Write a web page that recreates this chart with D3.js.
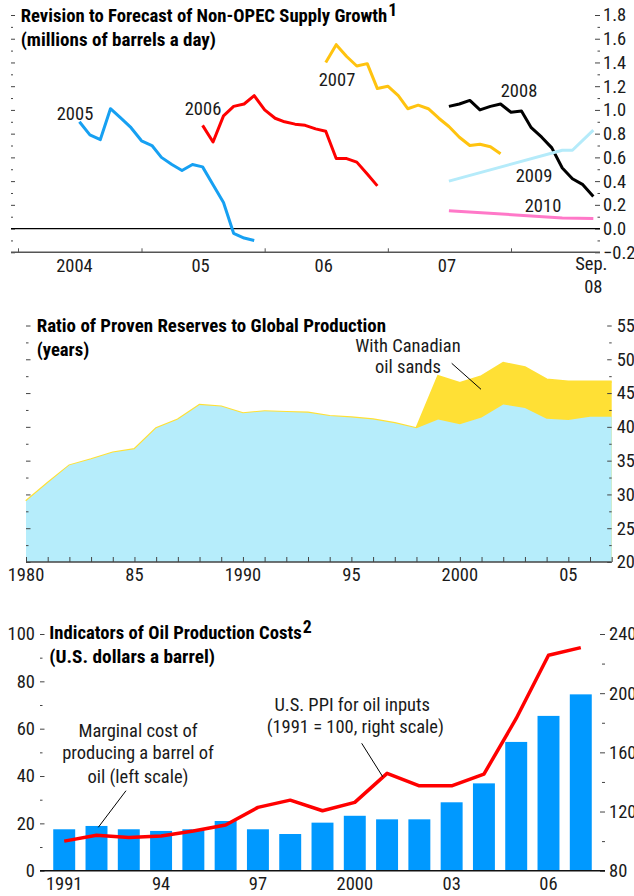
<!DOCTYPE html>
<html>
<head>
<meta charset="utf-8">
<script src="https://cdn.jsdelivr.net/npm/d3@7"></script>
<style>
  body { margin: 0; background: #fff; }
  svg { display: block; }
  text { font-family: "Roboto Condensed", "DejaVu Sans Condensed", sans-serif; fill: #1a1a1a; }
  .title { font-weight: bold; font-size: 17.8px; fill: #000; }
  .lbl { font-size: 18.5px; }
</style>
</head>
<body>
<svg id="chart" width="634" height="896"></svg>
<script>
// ==============================
// DATA
// ==============================
// Panel 1: revisions to forecast of non-OPEC supply growth (monthly)
const rev2005Start = "2004-07";
const rev2005 = [0.90, 0.79, 0.75, 1.01, 0.93, 0.85, 0.74, 0.70, 0.60, 0.54, 0.49, 0.54, 0.52, 0.37, 0.22, -0.04, -0.08, -0.10];
const rev2006Start = "2005-07";
const rev2006 = [0.87, 0.73, 0.95, 1.03, 1.05, 1.12, 1.00, 0.93, 0.90, 0.88, 0.87, 0.84, 0.82, 0.59, 0.59, 0.56, 0.46, 0.36];
const rev2007Start = "2006-07";
const rev2007 = [1.40, 1.55, 1.45, 1.37, 1.39, 1.18, 1.20, 1.12, 1.01, 1.04, 1.01, 0.93, 0.86, 0.77, 0.70, 0.71, 0.69, 0.63];
const rev2008Start = "2007-07";
const rev2008 = [1.03, 1.05, 1.08, 1.00, 1.03, 1.05, 0.98, 0.99, 0.85, 0.77, 0.68, 0.51, 0.42, 0.37, 0.27];
const rev2009 = [["2007-07", 0.40], ["2008-06", 0.66], ["2008-07", 0.66], ["2008-09", 0.83]];
const rev2010 = [["2007-07", 0.15], ["2008-06", 0.09], ["2008-09", 0.085]];
const revYearTicks = ["2004-01", "2005-01", "2006-01", "2007-01", "2008-01"];
const revYearLabels = [["2004-07", "2004"], ["2005-07", "05"], ["2006-07", "06"], ["2007-07", "07"]];
const revYTicks = [-0.2, 0, 0.2, 0.4, 0.6, 0.8, 1.0, 1.2, 1.4, 1.6, 1.8];

// Panel 2: ratio of proven reserves to global production (years)
const reserveYears = [1980, 1981, 1982, 1983, 1984, 1985, 1986, 1987, 1988, 1989, 1990, 1991, 1992, 1993,
                      1994, 1995, 1996, 1997, 1998, 1999, 2000, 2001, 2002, 2003, 2004, 2005, 2006, 2007];
const reservesBase = [29.0, 31.7, 34.3, 35.2, 36.2, 36.7, 39.8, 41.1, 43.25, 43.0, 42.0, 42.3, 42.2, 42.1,
                      41.6, 41.4, 41.1, 40.55, 39.8, 41.1, 40.4, 41.4, 43.3, 42.8, 41.2, 41.0, 41.5, 41.5];
const sandsYears = [1998, 1999, 2000, 2001, 2002, 2003, 2004, 2005, 2006, 2007];
const reservesWithSands = [39.8, 47.5, 46.5, 47.5, 49.45, 48.8, 47.0, 46.7, 46.7, 46.7];
const reserveXLabels = [[1980, "1980"], [1985, "85"], [1990, "1990"], [1995, "95"], [2000, "2000"], [2005, "05"]];
const reserveYTicks = [20, 25, 30, 35, 40, 45, 50, 55];

// Panel 3: indicators of oil production costs
const costYears = [1991, 1992, 1993, 1994, 1995, 1996, 1997, 1998, 1999, 2000, 2001, 2002, 2003, 2004, 2005, 2006, 2007];
const marginalCost = [17.5, 18.9, 17.5, 16.8, 17.5, 21.0, 17.5, 15.5, 20.3, 23.2, 21.7, 21.7, 28.9, 36.9, 54.4, 65.4, 74.5];
const ppiOilInputs = [100, 103.9, 102.5, 103.4, 106.8, 110.9, 122.8, 127.7, 120.5, 126.2, 145.8, 137.4, 137.4, 145.3, 182.9, 225.6, 230.8];
const costXLabels = [[1991, "1991"], [1994, "94"], [1997, "97"], [2000, "2000"], [2003, "03"], [2006, "06"]];
const costLeftTicks = [0, 20, 40, 60, 80, 100];
const costRightTicks = [80, 120, 160, 200, 240];

// ==============================
// SETUP
// ==============================
const svg = d3.select("#chart");
const parseMonth = d3.timeParse("%Y-%m");
const AXIS_COLOR = "#444";

function monthly(start, values) {
    const t0 = parseMonth(start);
    return values.map((v, i) => ({ date: d3.timeMonth.offset(t0, i), value: v }));
}
function pairs(list) {
    return list.map(([m, v]) => ({ date: parseMonth(m), value: v }));
}

function styleTicks(g, color) {
    g.select(".domain").remove();
    g.selectAll(".tick line").attr("stroke", color || AXIS_COLOR);
    g.selectAll("text").attr("class", "lbl").attr("fill", "#1a1a1a")
        .attr("font-family", null).attr("font-size", null);
}

// two-line bold panel title; widths follow the original typesetting
function title(x, y, line1, w1, sup, line2, w2) {
    svg.append("text").attr("class", "title").attr("x", x).attr("y", y)
        .attr("textLength", w1).attr("lengthAdjust", "spacingAndGlyphs").text(line1);
    if (sup) {
        svg.append("text").attr("class", "title").attr("font-size", "12px")
            .attr("x", x + w1 + 1).attr("y", y - 6).text(sup);
    }
    svg.append("text").attr("class", "title").attr("x", x).attr("y", y + 24)
        .attr("textLength", w2).attr("lengthAdjust", "spacingAndGlyphs").text(line2);
}

// ==============================
// PANEL 1: SUPPLY GROWTH REVISIONS
// ==============================
function drawRevisions() {
    const x = d3.scaleTime()
        .domain([parseMonth("2004-01"), parseMonth("2008-01")])
        .range([18, 511]);
    const y = d3.scaleLinear().domain([-0.2, 1.8]).range([252.3, 15]);
    const left = 11, right = 600;

    // left ticks (no labels)
    svg.append("g").attr("transform", `translate(${left},0)`)
        .call(d3.axisRight(y).tickValues(revYTicks).tickSize(4).tickFormat(""))
        .call(styleTicks);
    svg.append("g").attr("transform", `translate(${left},0)`)
        .call(d3.axisRight(y).tickValues(revYTicks.slice(1).map(v => v - 0.1)).tickSize(2).tickFormat(""))
        .call(styleTicks);

    // right ticks with labels
    svg.append("g").attr("transform", `translate(${right},0)`)
        .call(d3.axisRight(y).tickValues(revYTicks).tickSize(-5).tickPadding(3).tickFormat(d3.format(".1f")))
        .call(styleTicks);
    svg.append("g").attr("transform", `translate(${right},0)`)
        .call(d3.axisRight(y).tickValues(revYTicks.slice(1).map(v => v - 0.1)).tickSize(-2.5).tickFormat(""))
        .call(styleTicks);

    // zero line
    svg.append("line")
        .attr("x1", left).attr("x2", right)
        .attr("y1", y(0)).attr("y2", y(0))
        .attr("stroke", "#000").attr("stroke-width", 1.2);

    // bottom axis
    svg.append("line")
        .attr("x1", left).attr("x2", right)
        .attr("y1", y(-0.2)).attr("y2", y(-0.2))
        .attr("stroke", "#555").attr("stroke-width", 1.6);
    svg.append("g").attr("transform", `translate(0,${y(-0.2)})`)
        .call(d3.axisBottom(x).tickValues(revYearTicks.map(parseMonth)).tickSize(-4).tickFormat(""))
        .call(g => styleTicks(g, "#555"));

    revYearLabels.forEach(([m, label]) => {
        svg.append("text").attr("class", "lbl").attr("text-anchor", "middle")
            .attr("x", x(parseMonth(m)) - (label === "2004" ? 5 : 2)).attr("y", 271.7).text(label);
    });
    const sep = svg.append("text").attr("class", "lbl").attr("text-anchor", "middle")
        .attr("x", x(parseMonth("2008-09")) - 2).attr("y", 270);
    sep.append("tspan").text("Sep.");
    sep.append("tspan").attr("x", x(parseMonth("2008-09"))).attr("dy", 23).text("08");

    const line = d3.line().x(d => x(d.date)).y(d => y(d.value));
    const series = [
        { data: monthly(rev2005Start, rev2005), color: "#16a0f2", label: "2005", lx: 75, ly: 120 },
        { data: monthly(rev2006Start, rev2006), color: "#ff0000", label: "2006", lx: 203, ly: 115 },
        { data: monthly(rev2007Start, rev2007), color: "#ffc30f", label: "2007", lx: 337, ly: 86 },
        { data: monthly(rev2008Start, rev2008), color: "#000000", label: "2008", lx: 519, ly: 97.3 },
        { data: pairs(rev2009), color: "#b5ebfa", label: "2009", lx: 534, ly: 181.7 },
        { data: pairs(rev2010), color: "#ff78c8", label: "2010", lx: 543, ly: 211.7 }
    ];
    series.forEach(s => {
        svg.append("path").datum(s.data)
            .attr("d", line)
            .attr("fill", "none")
            .attr("stroke", s.color)
            .attr("stroke-width", 3)
            .attr("stroke-linejoin", "round");
        svg.append("text").attr("class", "lbl").attr("text-anchor", "middle")
            .attr("x", s.lx).attr("y", s.ly).text(s.label);
    });

    title(20.7, 21.7, "Revision to Forecast of Non-OPEC Supply Growth", 366.6, "1",
          "(millions of barrels a day)", 195.3);
}

// ==============================
// PANEL 2: RESERVES / PRODUCTION
// ==============================
function drawReserves() {
    const x = d3.scaleLinear().domain([1980, 2007]).range([26, 611.7]);
    const y = d3.scaleLinear().domain([20, 55]).range([562, 325.5]);

    const withSands = reserveYears.map((yr, i) => {
        const j = sandsYears.indexOf(yr);
        return { year: yr, value: j >= 0 ? reservesWithSands[j] : reservesBase[i] };
    });
    const base = reserveYears.map((yr, i) => ({ year: yr, value: reservesBase[i] }));

    const area = d3.area().x(d => x(d.year)).y0(y(20)).y1(d => y(d.value));
    const topLine = d3.line().x(d => x(d.year)).y(d => y(d.value));

    svg.append("path").datum(withSands).attr("d", area).attr("fill", "#ffe035");
    svg.append("path").datum(withSands).attr("d", topLine)
        .attr("fill", "none").attr("stroke", "#ffe035").attr("stroke-width", 2.2);
    svg.append("path").datum(base).attr("d", area).attr("fill", "#b6edfb");

    // ticks
    const minor = reserveYTicks.slice(1).map(v => v - 2.5);
    svg.append("g").attr("transform", "translate(26,0)")
        .call(d3.axisRight(y).tickValues(reserveYTicks).tickSize(4.5).tickFormat(""))
        .call(styleTicks);
    svg.append("g").attr("transform", "translate(26,0)")
        .call(d3.axisRight(y).tickValues(minor).tickSize(2.5).tickFormat(""))
        .call(styleTicks);
    svg.append("g").attr("transform", "translate(611.7,0)")
        .call(d3.axisRight(y).tickValues(reserveYTicks).tickSize(-4.5).tickPadding(5))
        .call(styleTicks);
    svg.append("g").attr("transform", "translate(611.7,0)")
        .call(d3.axisRight(y).tickValues(minor).tickSize(-2.5).tickFormat(""))
        .call(styleTicks);

    svg.append("line")
        .attr("x1", 26).attr("x2", 611.7).attr("y1", y(20)).attr("y2", y(20))
        .attr("stroke", AXIS_COLOR).attr("stroke-width", 1.6);
    svg.append("g").attr("transform", `translate(0,${y(20)})`)
        .call(d3.axisBottom(x).tickValues(reserveYears).tickSize(-5).tickFormat(""))
        .call(styleTicks);

    reserveXLabels.forEach(([yr, label]) => {
        svg.append("text").attr("class", "lbl").attr("text-anchor", "middle")
            .attr("x", x(yr)).attr("y", 581).text(label);
    });

    // annotation
    svg.append("text").attr("class", "lbl").attr("text-anchor", "middle")
        .attr("x", 408).attr("y", 351.7).text("With Canadian");
    svg.append("text").attr("class", "lbl").attr("text-anchor", "middle")
        .attr("x", 408).attr("y", 373.3).text("oil sands");
    svg.append("line")
        .attr("x1", 451.7).attr("y1", 363.3).attr("x2", 481).attr("y2", 389.3)
        .attr("stroke", "#000").attr("stroke-width", 1);

    title(36.7, 331.7, "Ratio of Proven Reserves to Global Production", 349.3, null, "(years)", 52.6);
}

// ==============================
// PANEL 3: PRODUCTION COSTS
// ==============================
function drawCosts() {
    const x = d3.scaleBand().domain(costYears).range([40, 605]).paddingInner(0.32).paddingOuter(0.41);
    const yL = d3.scaleLinear().domain([0, 100]).range([870.7, 634]);
    const yR = d3.scaleLinear().domain([80, 240]).range([870.7, 634]);

    svg.selectAll(".bar")
        .data(costYears)
        .enter().append("rect")
        .attr("class", "bar")
        .attr("fill", "#0099ff")
        .attr("x", d => x(d))
        .attr("width", x.bandwidth())
        .attr("y", (d, i) => yL(marginalCost[i]))
        .attr("height", (d, i) => yL(0) - yL(marginalCost[i]));

    const ppi = costYears.map((yr, i) => ({ year: yr, value: ppiOilInputs[i] }));
    svg.append("path").datum(ppi)
        .attr("d", d3.line().x(d => x(d.year) + x.bandwidth() / 2).y(d => yR(d.value)))
        .attr("fill", "none").attr("stroke", "#ff0000").attr("stroke-width", 3.5)
        .attr("stroke-linejoin", "round");

    // left axis
    svg.append("g").attr("transform", "translate(40,0)")
        .call(d3.axisLeft(yL).tickValues(costLeftTicks).tickSize(-4.5).tickPadding(5))
        .call(styleTicks);
    svg.append("g").attr("transform", "translate(40,0)")
        .call(d3.axisLeft(yL).tickValues([10, 30, 50, 70, 90]).tickSize(-2.5).tickFormat(""))
        .call(styleTicks);
    // right axis
    svg.append("g").attr("transform", "translate(605,0)")
        .call(d3.axisRight(yR).tickValues(costRightTicks).tickSize(-5).tickPadding(4))
        .call(styleTicks);
    svg.append("g").attr("transform", "translate(605,0)")
        .call(d3.axisRight(yR).tickValues([100, 140, 180, 220]).tickSize(-3).tickFormat(""))
        .call(styleTicks);

    svg.append("line")
        .attr("x1", 40).attr("x2", 605).attr("y1", yL(0)).attr("y2", yL(0))
        .attr("stroke", "#111").attr("stroke-width", 1.6);

    costXLabels.forEach(([yr, label]) => {
        svg.append("text").attr("class", "lbl").attr("text-anchor", "middle")
            .attr("x", x(yr) + x.bandwidth() / 2).attr("y", 890).text(label);
    });

    // annotations
    [["Marginal cost of", 736.7], ["producing a barrel of", 759.3], ["oil (left scale)", 782.7]].forEach(([t, yy]) => {
        svg.append("text").attr("class", "lbl").attr("text-anchor", "middle")
            .attr("x", 138).attr("y", yy).text(t);
    });
    svg.append("line")
        .attr("x1", 126).attr("y1", 790.7).attr("x2", 98.3).attr("y2", 827.3)
        .attr("stroke", "#000").attr("stroke-width", 1);

    [["U.S. PPI for oil inputs", 352.2, 710.7], ["(1991 = 100, right scale)", 355.3, 733.3]].forEach(([t, xx, yy]) => {
        svg.append("text").attr("class", "lbl").attr("text-anchor", "middle")
            .attr("x", xx).attr("y", yy).text(t);
    });
    svg.append("line")
        .attr("x1", 361.7).attr("y1", 743.3).attr("x2", 382.7).attr("y2", 776.7)
        .attr("stroke", "#000").attr("stroke-width", 1);

    title(49.3, 639.3, "Indicators of Oil Production Costs", 252.4, "2", "(U.S. dollars a barrel)", 165.7);
}

// ==============================
// START EVERYTHING
// ==============================
drawRevisions();
drawReserves();
drawCosts();
</script>
</body>
</html>
